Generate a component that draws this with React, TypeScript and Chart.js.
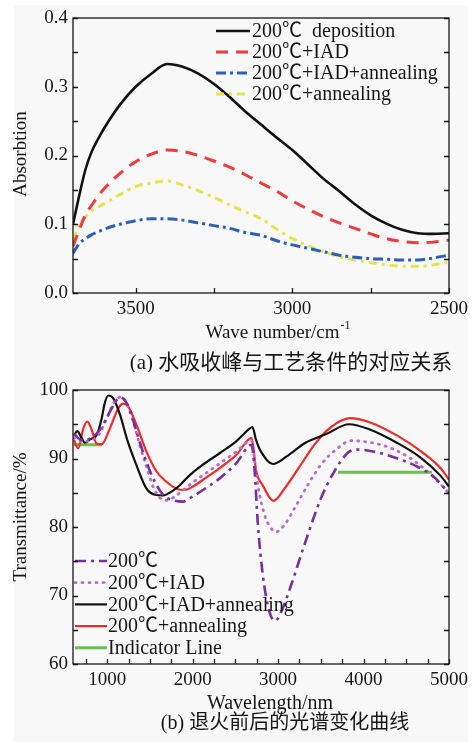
import { useEffect, useRef } from "react";
import { Chart, registerables } from "chart.js";
Chart.register(...registerables);

// ---------- (a) absorption data ----------
const wavenumber = [3700, 3680, 3660, 3640, 3620, 3600, 3550, 3500, 3450, 3400, 3350, 3300, 3250, 3200, 3150, 3100, 3050, 3000, 2950, 2900, 2850, 2800, 2750, 2700, 2650, 2600, 2550, 2500];
const absDeposition = [0.100, 0.142, 0.180, 0.206, 0.224, 0.240, 0.274, 0.300, 0.319, 0.333, 0.329, 0.319, 0.304, 0.285, 0.264, 0.245, 0.226, 0.208, 0.187, 0.166, 0.148, 0.129, 0.113, 0.101, 0.092, 0.087, 0.086, 0.087];
const absIAD = [0.068, 0.092, 0.114, 0.128, 0.141, 0.152, 0.174, 0.191, 0.202, 0.208, 0.206, 0.200, 0.192, 0.183, 0.172, 0.160, 0.148, 0.134, 0.122, 0.111, 0.102, 0.094, 0.086, 0.079, 0.075, 0.073, 0.074, 0.077];
const absIADAnnealing = [0.058, 0.072, 0.079, 0.085, 0.089, 0.093, 0.100, 0.105, 0.108, 0.108, 0.106, 0.102, 0.098, 0.094, 0.088, 0.084, 0.076, 0.070, 0.065, 0.060, 0.055, 0.052, 0.050, 0.049, 0.048, 0.048, 0.051, 0.055];
const absAnnealing = [0.078, 0.099, 0.111, 0.120, 0.125, 0.130, 0.143, 0.155, 0.160, 0.163, 0.157, 0.149, 0.139, 0.128, 0.118, 0.108, 0.093, 0.079, 0.069, 0.060, 0.053, 0.048, 0.044, 0.041, 0.039, 0.039, 0.041, 0.045];
const absLabels = ["200℃  deposition", "200℃+IAD", "200℃+IAD+annealing", "200℃+annealing"];
const absTicks = [0, 0.05, 0.1, 0.15, 0.2, 0.25, 0.3, 0.35, 0.4];
const waveTicks = [3500, 3250, 3000, 2750, 2500];

// ---------- (b) transmittance data ----------
const wl200X = [610, 701, 798, 915, 993, 1052, 1149, 1207, 1265, 1343, 1460, 1557, 1654, 1771, 1887, 1966, 2121, 2316, 2510, 2690, 2724, 2763, 2821, 2899, 2966, 3036, 3152, 3308, 3502, 3658, 3813, 3930, 4125, 4397, 4630, 4825, 5000];
const tr200 = [93.6, 92.7, 92.9, 94.2, 95.9, 97.3, 98.9, 98.5, 97.1, 93.9, 89.5, 86.6, 84.7, 83.9, 83.7, 84.2, 85.4, 87.1, 89.3, 92.0, 88.4, 80.5, 73.0, 67.6, 66.3, 67.6, 71.5, 77.4, 84.2, 88.1, 90.8, 91.3, 91.0, 90.0, 88.8, 87.3, 84.9];
const wlIADX = [610, 700, 800, 900, 1000, 1080, 1168, 1230, 1300, 1380, 1460, 1540, 1620, 1700, 1800, 1900, 2000, 2150, 2320, 2510, 2690, 2724, 2763, 2841, 2919, 2977, 3074, 3191, 3346, 3502, 3697, 3853, 4047, 4280, 4514, 4747, 4980, 5000];
const trIAD = [93.0, 92.5, 92.6, 93.5, 96.0, 98.2, 99.0, 98.0, 95.6, 92.0, 88.8, 85.8, 84.2, 83.9, 84.5, 85.5, 86.5, 87.8, 89.3, 91.0, 92.6, 89.8, 86.1, 81.8, 79.8, 79.3, 80.3, 82.7, 86.1, 89.1, 91.5, 92.6, 92.4, 91.7, 90.3, 88.1, 85.2, 84.9];
const wlIADAnnX = [610, 650, 700, 740, 800, 876, 935, 970, 1012, 1070, 1150, 1230, 1340, 1460, 1560, 1650, 1770, 1850, 1970, 2120, 2320, 2510, 2660, 2700, 2740, 2800, 2940, 3100, 3320, 3570, 3830, 4080, 4390, 4660, 4900, 5000];
const trIADAnn = [93.3, 94.0, 93.0, 92.3, 92.8, 93.4, 95.8, 98.0, 99.2, 98.8, 96.4, 92.9, 89.1, 85.6, 84.7, 84.6, 85.3, 86.1, 87.6, 89.1, 90.8, 92.5, 94.3, 94.6, 92.8, 91.0, 89.2, 90.3, 92.3, 93.6, 95.0, 94.2, 92.3, 90.2, 87.5, 85.9];
const wlAnnX = [610, 662, 721, 767, 818, 876, 935, 1032, 1129, 1187, 1245, 1343, 1460, 1577, 1694, 1810, 1907, 2004, 2121, 2316, 2510, 2690, 2745, 2820, 2945, 3075, 3240, 3430, 3590, 3840, 4070, 4400, 4700, 4900, 5000];
const trAnn = [92.7, 91.5, 94.4, 95.4, 94.2, 92.2, 92.1, 94.4, 97.3, 98.0, 97.6, 94.9, 91.0, 88.1, 86.6, 85.6, 85.4, 85.9, 86.9, 88.6, 90.5, 93.0, 88.1, 86.1, 83.8, 85.6, 88.6, 92.1, 94.3, 95.9, 95.3, 93.3, 90.8, 88.6, 86.9];
const indicatorX = [610, 940, 2000, 3700, 4800];
const indicatorY = [92, 92, null, 88, 88];
const trLabels = ["200℃", "200℃+IAD", "200℃+IAD+annealing", "200℃+annealing", "Indicator Line"];
const trTicks = [60, 65, 70, 75, 80, 85, 90, 95, 100];
const wlTicks = [750, 1000, 1250, 1500, 1750, 2000, 2250, 2500, 2750, 3000, 3250, 3500, 3750, 4000, 4250, 4500, 4750, 5000];

const SERIF = '"Liberation Serif", "Times New Roman", "Noto Sans CJK SC", serif';
const INK = "#161616";

function pts(xs: number[], ys: (number | null)[]) {
  return xs.map((x, i) => ({ x, y: ys[i] }));
}

function framePlugin() {
  return {
    id: "frameTicks",
    afterDatasetsDraw(chart: any) {
      const { ctx, chartArea: a, scales } = chart;
      const L = 5;
      ctx.save();
      ctx.strokeStyle = INK;
      ctx.lineWidth = 1.3;
      ctx.strokeRect(a.left, a.top, a.right - a.left, a.bottom - a.top);
      ctx.beginPath();
      scales.x.ticks.forEach((t: any) => {
        const px = Math.round(scales.x.getPixelForValue(t.value)) + 0.5;
        ctx.moveTo(px, a.bottom);
        ctx.lineTo(px, a.bottom - L);
      });
      scales.y.ticks.forEach((t: any) => {
        const py = Math.round(scales.y.getPixelForValue(t.value)) + 0.5;
        ctx.moveTo(a.left, py);
        ctx.lineTo(a.left + L, py);
        ctx.moveTo(a.right, py);
        ctx.lineTo(a.right - L, py);
      });
      ctx.stroke();
      ctx.restore();
    },
  };
}

type TextItem = { text: string; x: number; y: number; size: number; rotate?: number; sup?: string };

function textPlugin(items: TextItem[]) {
  return {
    id: "texts",
    afterDraw(chart: any) {
      const ctx = chart.ctx;
      items.forEach((it) => {
        ctx.save();
        ctx.fillStyle = INK;
        ctx.textBaseline = "middle";
        ctx.textAlign = "left";
        ctx.translate(it.x, it.y);
        if (it.rotate) ctx.rotate(it.rotate);
        ctx.font = `${it.size}px ${SERIF}`;
        const mainW = ctx.measureText(it.text).width;
        let supW = 0;
        const supSize = Math.round(it.size * 0.62);
        if (it.sup) {
          ctx.font = `${supSize}px ${SERIF}`;
          supW = ctx.measureText(it.sup).width + 1;
        }
        const start = -(mainW + supW) / 2;
        ctx.font = `${it.size}px ${SERIF}`;
        ctx.fillText(it.text, start, 0);
        if (it.sup) {
          ctx.font = `${supSize}px ${SERIF}`;
          ctx.fillText(it.sup, start + mainW + 1, -it.size * 0.38);
        }
        ctx.restore();
      });
    },
  };
}

function legendPlugin(cfg: { x0: number; x1: number; tx: number; y0: number; dy: number; size: number }) {
  return {
    id: "inLegend",
    afterDatasetsDraw(chart: any) {
      const ctx = chart.ctx;
      chart.data.datasets.forEach((ds: any, i: number) => {
        const y = cfg.y0 + i * cfg.dy;
        ctx.save();
        ctx.strokeStyle = ds.borderColor;
        ctx.lineWidth = ds.borderWidth;
        ctx.lineCap = ds.borderCapStyle || "butt";
        ctx.setLineDash(ds.borderDash || []);
        ctx.beginPath();
        ctx.moveTo(cfg.x0, y);
        ctx.lineTo(cfg.x1, y);
        ctx.stroke();
        ctx.setLineDash([]);
        ctx.fillStyle = INK;
        ctx.font = `${cfg.size}px ${SERIF}`;
        ctx.textBaseline = "middle";
        ctx.textAlign = "left";
        ctx.fillText(ds.label, cfg.tx, y + 1);
        ctx.restore();
      });
    },
  };
}

function lineDs(label: string, data: any[], color: string, width: number, dash: number[], cap = "butt") {
  return {
    label,
    data,
    borderColor: color,
    backgroundColor: color,
    borderWidth: width,
    borderDash: dash,
    borderCapStyle: cap,
    pointRadius: 0,
    fill: false,
    cubicInterpolationMode: "monotone",
    spanGaps: false,
  };
}

function axisCommon(ticksArr: number[], labelFn: (v: number) => string, fitProp: "width" | "height", fitVal: number) {
  return {
    afterBuildTicks: (s: any) => {
      s.ticks = ticksArr.map((v) => ({ value: v }));
    },
    afterFit: (s: any) => {
      s[fitProp] = fitVal;
    },
    grid: { display: true, drawOnChartArea: false, drawTicks: false },
    border: { display: false },
    ticks: {
      autoSkip: false,
      maxRotation: 0,
      minRotation: 0,
      padding: 5,
      color: INK,
      font: { family: SERIF, size: 19 },
      callback: (v: any) => labelFn(Number(v)),
    },
  };
}

function topConfig(): any {
  const data = {
    datasets: [
      lineDs(absLabels[0], pts(wavenumber, absDeposition), "#111111", 2.6, []),
      lineDs(absLabels[1], pts(wavenumber, absIAD), "#ef3b3b", 3, [12, 8]),
      lineDs(absLabels[2], pts(wavenumber, absIADAnnealing), "#2e5fb5", 3, [10, 4, 3, 4]),
      lineDs(absLabels[3], pts(wavenumber, absAnnealing), "#e4e44e", 3, [8, 5, 3, 5]),
    ],
  };
  return {
    type: "line",
    data,
    options: {
      animation: false,
      responsive: false,
      devicePixelRatio: 1,
      layout: { padding: { left: 0, right: 23, top: 18, bottom: 0 } },
      plugins: { legend: { display: false }, tooltip: { enabled: false } },
      scales: {
        x: {
          type: "linear",
          min: 2500,
          max: 3700,
          reverse: true,
          ...axisCommon(waveTicks, (v) => (v % 500 === 0 ? String(v) : ""), "height", 79),
        },
        y: {
          type: "linear",
          min: 0,
          max: 0.4,
          ...axisCommon(absTicks, (v) => (Math.abs(v * 10 - Math.round(v * 10)) < 1e-6 ? v.toFixed(1) : ""), "width", 73),
        },
      },
    },
    plugins: [
      legendPlugin({ x0: 216, x1: 250, tx: 252, y0: 31, dy: 21, size: 20 }),
      framePlugin(),
      textPlugin([
        { text: "Absorbtion", x: 21, y: 154, size: 19, rotate: -Math.PI / 2 },
        { text: "Wave number/cm", sup: "-1", x: 278, y: 333, size: 19 },
        { text: "(a) 水吸收峰与工艺条件的对应关系", x: 291, y: 363, size: 21 },
      ]),
    ],
  };
}

function bottomConfig(): any {
  const data = {
    datasets: [
      lineDs(trLabels[0], pts(wl200X, tr200), "#77309c", 2.6, [11, 5, 3, 5]),
      lineDs(trLabels[1], pts(wlIADX, trIAD), "#b46dcc", 2.8, [1, 6], "round"),
      lineDs(trLabels[2], pts(wlIADAnnX, trIADAnn), "#111111", 2.2, []),
      lineDs(trLabels[3], pts(wlAnnX, trAnn), "#f02a2a", 2.2, []),
      { ...lineDs(trLabels[4], pts(indicatorX, indicatorY), "#6cbf4c", 3, []), cubicInterpolationMode: "default", tension: 0 },
    ],
  };
  return {
    type: "line",
    data,
    options: {
      animation: false,
      responsive: false,
      devicePixelRatio: 1,
      layout: { padding: { left: 0, right: 23, top: 18, bottom: 0 } },
      plugins: { legend: { display: false }, tooltip: { enabled: false } },
      scales: {
        x: {
          type: "linear",
          min: 600,
          max: 5000,
          ...axisCommon(wlTicks, (v) => (v % 1000 === 0 ? String(v) : ""), "height", 80),
        },
        y: {
          type: "linear",
          min: 60,
          max: 100,
          ...axisCommon(trTicks, (v) => (v % 10 === 0 ? String(v) : ""), "width", 73),
        },
      },
    },
    plugins: [
      legendPlugin({ x0: 75, x1: 107, tx: 108, y0: 189, dy: 21.7, size: 20 }),
      framePlugin(),
      textPlugin([
        { text: "Transmittance/%", x: 21, y: 517 - 372, size: 19, rotate: -Math.PI / 2 },
        { text: "Wavelength/nm", x: 270, y: 704 - 372, size: 20 },
        { text: "(b) 退火前后的光谱变化曲线", x: 285, y: 724 - 372, size: 20 },
      ]),
    ],
  };
}

export default function App() {
  const topRef = useRef<HTMLCanvasElement>(null);
  const botRef = useRef<HTMLCanvasElement>(null);
  useEffect(() => {
    document.body.style.margin = "0";
    const c1 = new Chart(topRef.current as HTMLCanvasElement, topConfig());
    const c2 = new Chart(botRef.current as HTMLCanvasElement, bottomConfig());
    return () => {
      c1.destroy();
      c2.destroy();
    };
  }, []);
  return (
    <div style={{ position: "relative", width: 473, height: 744, background: "#ffffff", overflow: "hidden" }}>
      <div style={{ position: "absolute", left: 14, top: 5, width: 454, height: 737, background: "#f8f8f8" }} />
      <canvas ref={topRef} width={473} height={372} style={{ position: "absolute", left: 0, top: 0, width: 473, height: 372 }} />
      <canvas ref={botRef} width={473} height={372} style={{ position: "absolute", left: 0, top: 372, width: 473, height: 372 }} />
    </div>
  );
}
